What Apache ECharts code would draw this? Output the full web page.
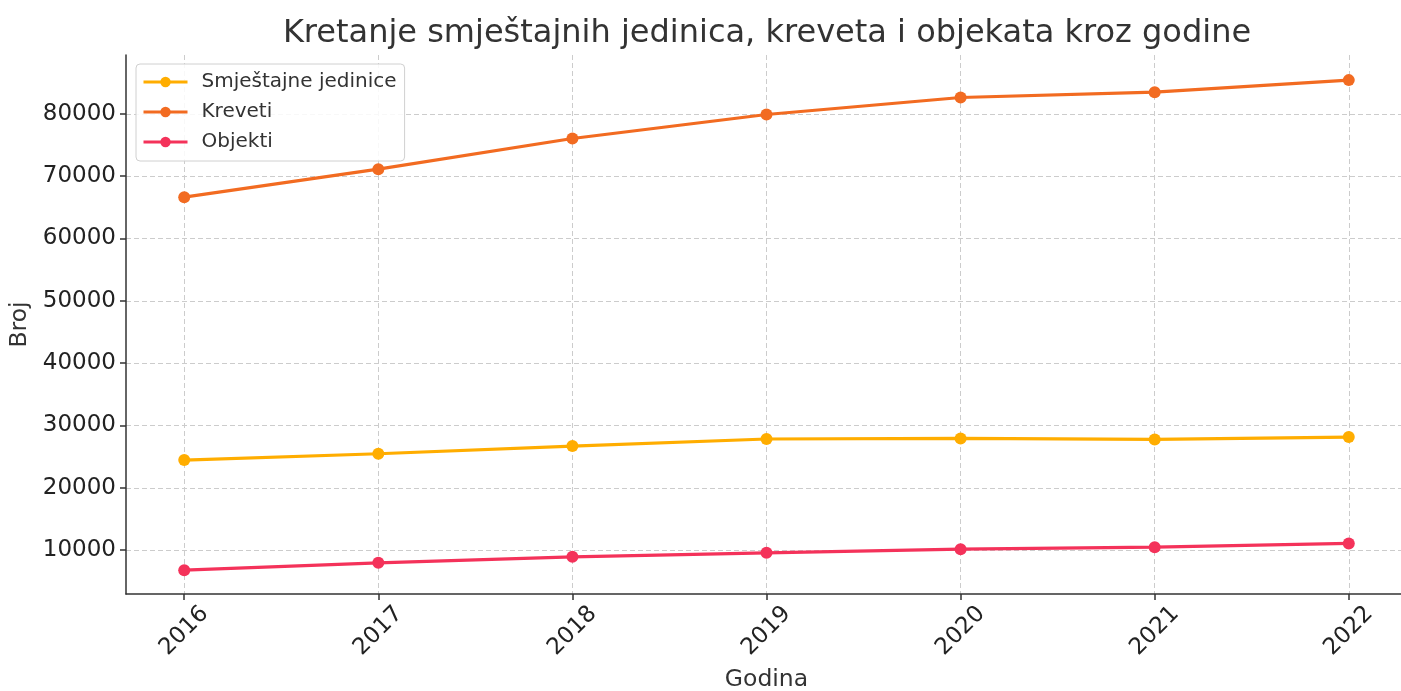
<!DOCTYPE html>
<html>
<head>
<meta charset="utf-8">
<script src="https://cdn.jsdelivr.net/npm/echarts@6/dist/echarts.min.js"></script>
<style>
    html, body { margin: 0; padding: 0; background: #fff; }
    #chart { width: 1401px; height: 691px; }
</style>
</head>
<body>
<div id="chart"></div>
<script>
var years = [2016, 2017, 2018, 2019, 2020, 2021, 2022];
var smjestajneJedinice = [24450, 25470, 26700, 27830, 27930, 27770, 28150];
var kreveti = [66630, 71120, 76040, 79890, 82610, 83460, 85400];
var objekti = [6790, 7970, 8940, 9580, 10160, 10480, 11080];
var yTicks = [10000, 20000, 30000, 40000, 50000, 60000, 70000, 80000];

var seriesNames = ['Smještajne jedinice', 'Kreveti', 'Objekti'];
var seriesColors = ['#FFAD00', '#F26B21', '#F4325A'];

function pairs(vals) {
    return years.map(function (y, i) { return [y, vals[i]]; });
}

var myChart = echarts.init(document.getElementById('chart'));
var font = 'DejaVu Sans';
var textColor = '#333333';

function makeSeries(i, vals) {
    return {
        name: seriesNames[i],
        type: 'line',
        data: pairs(vals),
        color: seriesColors[i],
        symbol: 'circle',
        symbolSize: 12,
        lineStyle: { width: 3.2 }
    };
}

var option = {
    animation: false,
    backgroundColor: '#ffffff',
    textStyle: { fontFamily: font },
    title: {
        text: 'Kretanje smještajnih jedinica, kreveta i objekata kroz godine',
        left: 762,
        textAlign: 'center',
        top: 13,
        textStyle: { fontFamily: font, fontSize: 32, fontWeight: 'normal', color: textColor }
    },
    legend: {
        left: 136,
        top: 64,
        orient: 'vertical',
        padding: [8, 8, 9, 6],
        itemGap: 10,
        itemWidth: 44,
        itemHeight: 13,
        lineStyle: { width: 3 },
        backgroundColor: 'rgba(255,255,255,0.85)',
        borderColor: '#d0d0d0',
        borderWidth: 1,
        borderRadius: 4,
        textStyle: { fontFamily: font, fontSize: 20, color: textColor, padding: [0, 0, 0, 9] },
        data: seriesNames
    },
    grid: {
        left: 126,
        right: -6,
        top: 55,
        bottom: 97,
        outerBoundsMode: 'none'
    },
    xAxis: {
        type: 'value',
        min: 2015.7,
        max: 2022.3,
        name: 'Godina',
        nameLocation: 'middle',
        nameGap: 74,
        nameTextStyle: { fontFamily: font, fontSize: 23.5, color: textColor },
        axisLine: { show: true, lineStyle: { color: '#333333', width: 1.5 } },
        axisTick: { show: true, customValues: years, length: 6, lineStyle: { color: '#333333', width: 1.5 } },
        axisLabel: {
            customValues: years,
            rotate: 45,
            align: 'center',
            verticalAlign: 'middle',
            margin: 37,
            fontFamily: font,
            fontSize: 23,
            color: '#222222',
            formatter: function (v) { return String(Math.round(v)); }
        },
        splitLine: { show: true, lineStyle: { color: '#cccccc', type: [5, 3], width: 1 } }
    },
    yAxis: {
        type: 'value',
        min: 2970,
        max: 89430,
        name: 'Broj',
        nameLocation: 'middle',
        nameGap: 94,
        nameTextStyle: { fontFamily: font, fontSize: 23.5, color: textColor },
        axisLine: { show: true, lineStyle: { color: '#333333', width: 1.5 } },
        axisTick: { show: true, customValues: yTicks, length: 6, lineStyle: { color: '#333333', width: 1.5 } },
        axisLabel: {
            customValues: yTicks,
            margin: 10,
            fontFamily: font,
            fontSize: 23,
            color: '#222222',
            formatter: function (v) { return String(Math.round(v)); }
        },
        splitLine: { show: true, lineStyle: { color: '#cccccc', type: [5, 3], width: 1 } }
    },
    series: [
        makeSeries(0, smjestajneJedinice),
        makeSeries(1, kreveti),
        makeSeries(2, objekti)
    ]
};

myChart.setOption(option);
</script>
</body>
</html>
